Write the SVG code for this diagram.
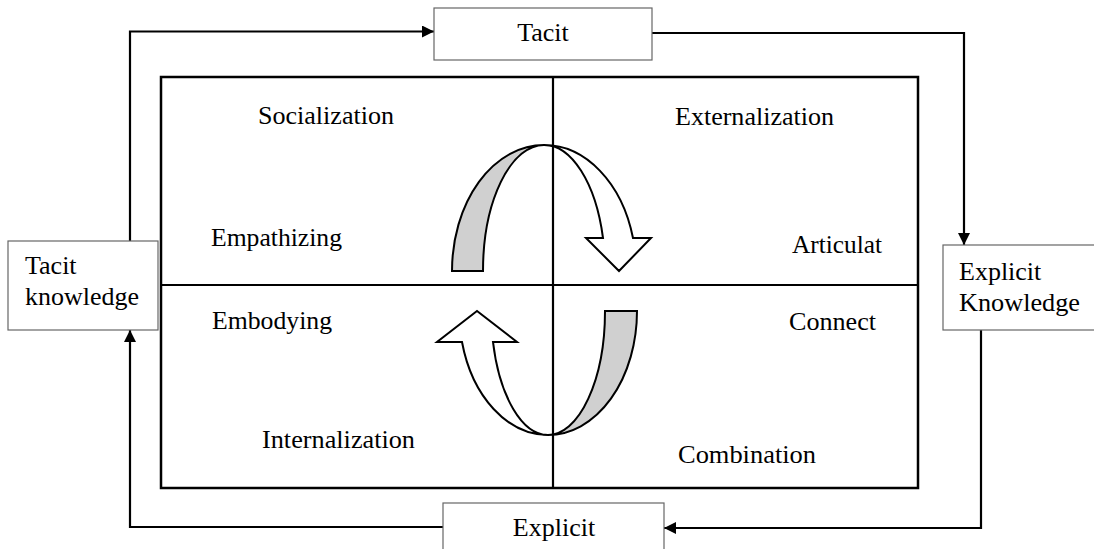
<svg xmlns="http://www.w3.org/2000/svg" width="1094" height="549" viewBox="0 0 1094 549">
  <defs>
    <style>
      .lbl { font-family: "Liberation Serif", "Times New Roman", serif; font-size: 26px; fill: #000; }
      .box { fill: #fff; stroke: #666; stroke-width: 1.2; }
      .conn { fill: none; stroke: #000; stroke-width: 2.2; }
      .frame { fill: #fff; stroke: #000; stroke-width: 2.5; }
      .div { stroke: #000; stroke-width: 2.2; }
      .arw { stroke: #000; stroke-width: 2; stroke-linejoin: miter; }
    </style>
    <marker id="ah" markerUnits="userSpaceOnUse" markerWidth="14" markerHeight="14" refX="12" refY="6" orient="auto">
      <path d="M0,0 L12,6 L0,12 Z" fill="#000"/>
    </marker>
  </defs>
  <rect width="1094" height="549" fill="#fff"/>

  <g id="frame">
    <rect class="frame" x="161" y="77" width="757" height="411"/>
  </g>

  <g id="cycle-arrows">
    <path class="arw" fill="#fff" d="M544,145 A92,126 0 0 1 633,238 L651,238 L619,271 L586,238 L603,238 A61,126 0 0 0 544,145 Z"/>
    <path class="arw" fill="#d0d0d0" d="M452,271 A92,126 0 0 1 544,145 A61,126 0 0 0 483,271 Z"/>
    <path class="arw" fill="#fff" d="M548,435 A89,124 0 0 1 462,342 L437,342 L477,311 L517,342 L493,342 A57,124 0 0 0 548,435 Z"/>
    <path class="arw" fill="#d0d0d0" d="M637,311 A89,124 0 0 1 548,435 A57,124 0 0 0 605,311 Z"/>
  </g>

  <g id="dividers">
    <line class="div" x1="553" y1="77" x2="553" y2="488"/>
    <line class="div" x1="161" y1="285" x2="918" y2="285"/>
  </g>

  <g id="quadrant-labels">
    <text class="lbl" x="258" y="124" textLength="136" lengthAdjust="spacingAndGlyphs">Socialization</text>
    <text class="lbl" x="675" y="125" textLength="159" lengthAdjust="spacingAndGlyphs">Externalization</text>
    <text class="lbl" x="211" y="246" textLength="131" lengthAdjust="spacingAndGlyphs">Empathizing</text>
    <text class="lbl" x="792" y="253" textLength="90" lengthAdjust="spacingAndGlyphs">Articulat</text>
    <text class="lbl" x="212" y="329" textLength="120" lengthAdjust="spacingAndGlyphs">Embodying</text>
    <text class="lbl" x="789" y="330" textLength="87" lengthAdjust="spacingAndGlyphs">Connect</text>
    <text class="lbl" x="262" y="448" textLength="153" lengthAdjust="spacingAndGlyphs">Internalization</text>
    <text class="lbl" x="678" y="463" textLength="138" lengthAdjust="spacingAndGlyphs">Combination</text>
  </g>

  <g id="connectors">
    <path class="conn" d="M130,241 V31.5 H434" marker-end="url(#ah)"/>
    <path class="conn" d="M652,33 H964 V245" marker-end="url(#ah)"/>
    <path class="conn" d="M981,330 V528 H664" marker-end="url(#ah)"/>
    <path class="conn" d="M443,527 H130 V330" marker-end="url(#ah)"/>
  </g>

  <g id="node-tacit">
    <rect class="box" x="434" y="8" width="218" height="52"/>
    <text class="lbl" x="543" y="41" text-anchor="middle">Tacit</text>
  </g>

  <g id="node-tacit-knowledge">
    <rect class="box" x="8" y="241" width="150" height="89"/>
    <text class="lbl" x="25" y="274">Tacit</text>
    <text class="lbl" x="25" y="305" textLength="114" lengthAdjust="spacingAndGlyphs">knowledge</text>
  </g>

  <g id="node-explicit-knowledge">
    <rect class="box" x="943" y="245" width="160" height="85"/>
    <text class="lbl" x="959" y="280">Explicit</text>
    <text class="lbl" x="959" y="311" textLength="121" lengthAdjust="spacingAndGlyphs">Knowledge</text>
  </g>

  <g id="node-explicit">
    <rect class="box" x="443" y="503" width="221" height="60"/>
    <text class="lbl" x="554" y="536" text-anchor="middle">Explicit</text>
  </g>
</svg>
